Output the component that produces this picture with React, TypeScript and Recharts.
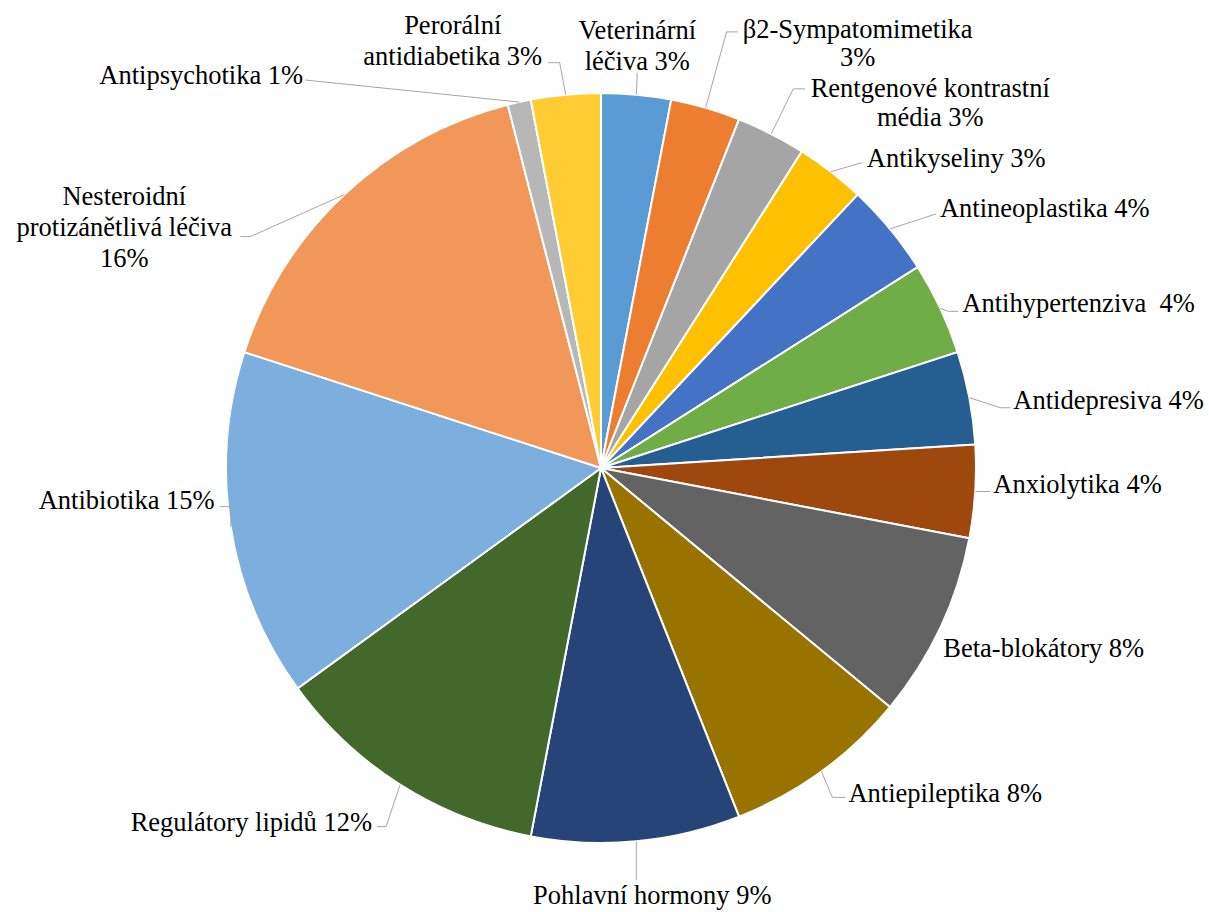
import { PieChart, Pie, Cell } from 'recharts'

const categories = [
  'Veterinární léčiva',
  'β2-Sympatomimetika',
  'Rentgenové kontrastní média',
  'Antikyseliny',
  'Antineoplastika',
  'Antihypertenziva ',
  'Antidepresiva',
  'Anxiolytika',
  'Beta-blokátory',
  'Antiepileptika',
  'Pohlavní hormony',
  'Regulátory lipidů',
  'Antibiotika',
  'Nesteroidní protizánětlivá léčiva',
  'Antipsychotika',
  'Perorální antidiabetika',
]

const shares = [3, 3, 3, 3, 4, 4, 4, 4, 8, 8, 9, 12, 15, 16, 1, 3]

const colors = [
  '#5B9BD5', '#ED7D31', '#A5A5A5', '#FFC000', '#4472C4', '#70AD47',
  '#255E91', '#9E480E', '#636363', '#997300', '#264478', '#43682B',
  '#7CAFDD', '#F1975A', '#B7B7B7', '#FFCD33',
]

const data = categories.map((name, i) => ({ name, value: shares[i] }))

// label placement relative to the slice's outer mid point
// t = text anchor offset, path = leader line points, breaks = word index after which a line ends
type Layout = {
  t: [number, number]
  anchor: 'start' | 'middle' | 'end'
  path: [number, number][]
  breaks?: number[]
  lh?: number
}

const layout: Layout[] = [
  { t: [1, -65], anchor: 'middle', path: [[1, -22]], breaks: [1] },
  { t: [152, -79], anchor: 'middle', path: [[21, -76], [32, -76]], breaks: [1], lh: 28 },
  { t: [159, -46], anchor: 'middle', path: [[22, -45], [34, -45]], breaks: [2], lh: 29 },
  { t: [36, -14], anchor: 'start', path: [[31, -9]] },
  { t: [50, -21], anchor: 'start', path: [[46, -15]] },
  { t: [22, -5], anchor: 'start', path: [[8, 3], [18, 3]] },
  { t: [44, 2], anchor: 'start', path: [[31, 10], [41, 10]] },
  { t: [18, -8], anchor: 'start', path: [[15, 0]] },
  { t: [3, 20], anchor: 'start', path: [] },
  { t: [27, 22], anchor: 'start', path: [[11, 26], [24, 26]] },
  { t: [16, 54], anchor: 'middle', path: [[0, 39]] },
  { t: [-28, 37], anchor: 'end', path: [[-14, 42], [-23, 42]] },
  { t: [-16, -27], anchor: 'end', path: [[1, -20], [-11, -20]] },
  { t: [-220, 1], anchor: 'middle', path: [[-94, 42], [-104, 42]], breaks: [1, 3] },
  { t: [-216, -27], anchor: 'end', path: [[-214, -22]] },
  { t: [-113, -70], anchor: 'middle', path: [[-6, -32], [-18, -32]], breaks: [1] },
]

const RAD = Math.PI / 180
const LINE_H = 31
const FONT = '"Liberation Serif", "Times New Roman", serif'

function renderLabel(props: any) {
  const { cx, cy, midAngle, outerRadius, index, name, percent } = props
  const ox = cx + outerRadius * Math.cos(-midAngle * RAD)
  const oy = cy + outerRadius * Math.sin(-midAngle * RAD)
  const l = layout[index]
  const text = `${name} ${Math.round(percent * 100)}%`
  const words = text.split(' ')
  const lines: string[] = []
  if (l.breaks) {
    let from = 0
    l.breaks.forEach((b) => {
      lines.push(words.slice(from, b).join(' '))
      from = b
    })
    lines.push(words.slice(from).join(' '))
  } else {
    lines.push(text.replace('  ', '\u00a0 '))
  }
  const pts = [[ox, oy], ...l.path.map(([dx, dy]) => [ox + dx, oy + dy])]
  return (
    <g key={`lbl-${index}`}>
      {l.path.length > 0 && (
        <polyline
          points={pts.map((p) => p.join(',')).join(' ')}
          fill="none"
          stroke="#A6A6A6"
          strokeWidth={1}
        />
      )}
      <text
        x={ox + l.t[0]}
        y={oy + l.t[1]}
        textAnchor={l.anchor}
        dominantBaseline="central"
        style={{ fontFamily: FONT, fontSize: 26.5 }}
        fill="#000"
      >
        {lines.map((ln, i) => (
          <tspan key={i} x={ox + l.t[0]} dy={i === 0 ? 0 : l.lh ?? LINE_H}>
            {ln}
          </tspan>
        ))}
      </text>
    </g>
  )
}

export default function App() {
  return (
    <div style={{ position: 'absolute', left: 0, top: 0, background: '#fff', fontFamily: FONT }}>
      <PieChart width={1209} height={912} margin={{ top: 0, right: 0, bottom: 0, left: 0 }}>
        <Pie
          data={data}
          dataKey="value"
          nameKey="name"
          cx={601}
          cy={468}
          outerRadius={375}
          startAngle={90}
          endAngle={-270}
          stroke="#fff"
          strokeWidth={2}
          label={renderLabel}
          labelLine={false}
          isAnimationActive={false}
        >
          {data.map((d, i) => (
            <Cell key={d.name} fill={colors[i]} />
          ))}
        </Pie>
      </PieChart>
    </div>
  )
}
